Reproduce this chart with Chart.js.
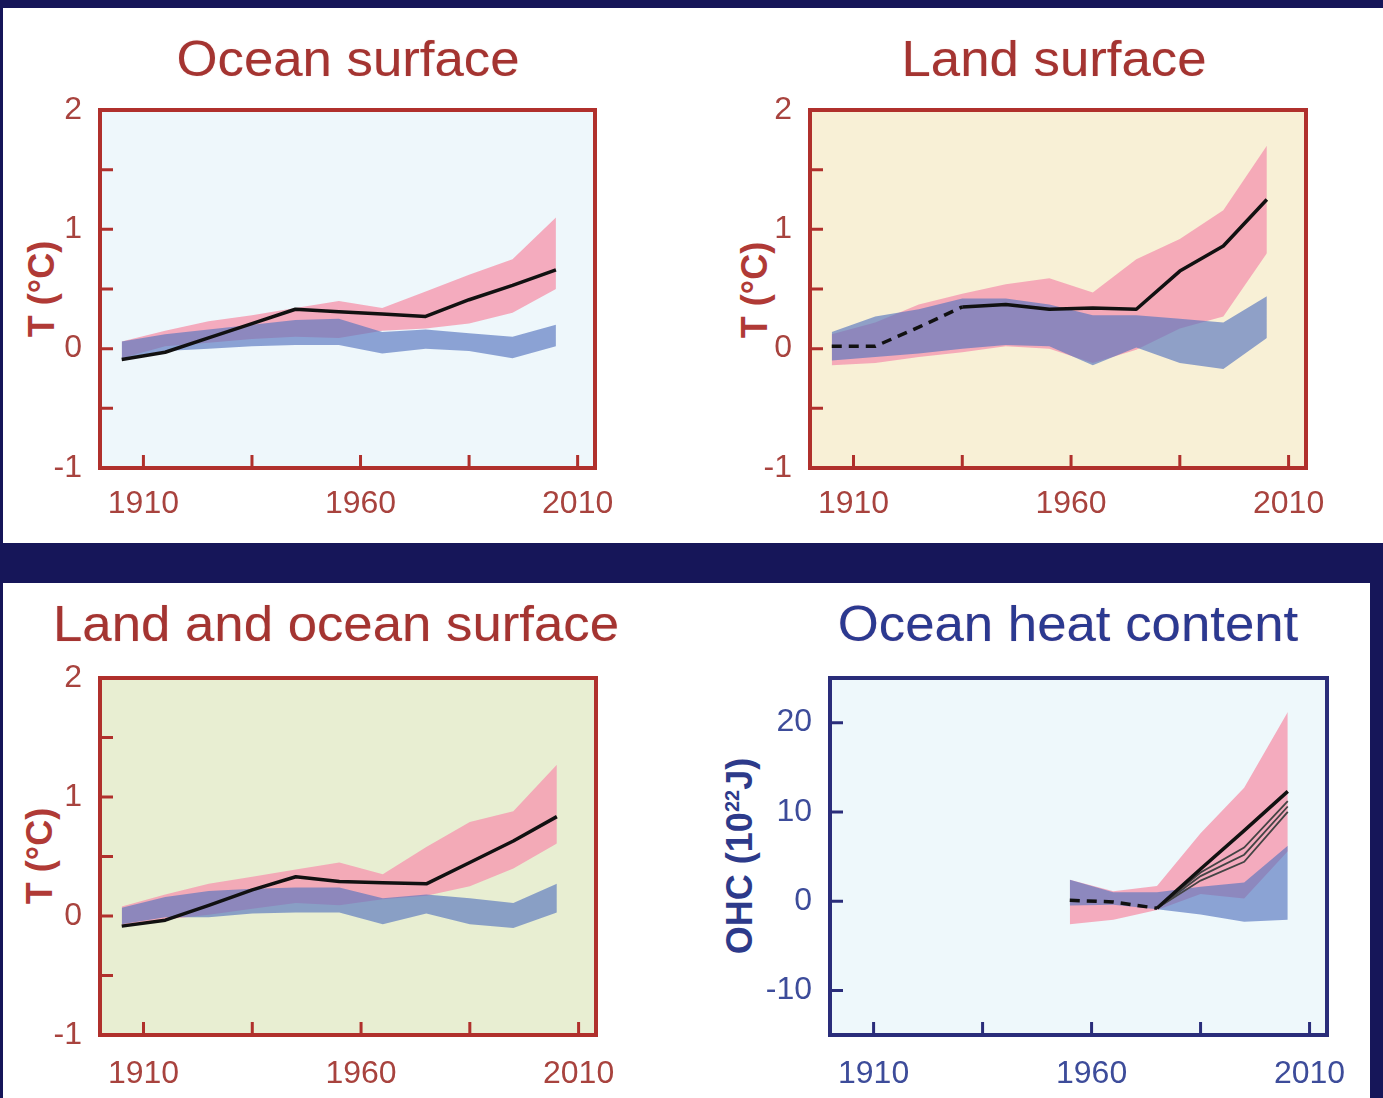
<!DOCTYPE html>
<html><head><meta charset="utf-8">
<script src="https://cdn.jsdelivr.net/npm/chart.js@4.4.1/dist/chart.umd.min.js"></script>
<style>
html,body{margin:0;padding:0;}
body{width:1383px;height:1098px;background:#161659;position:relative;overflow:hidden;font-family:"Liberation Sans",Arial,sans-serif;}
.panel{position:absolute;background:#fff;}
.title{position:absolute;font-size:50px;line-height:50px;white-space:nowrap;transform:translateX(-50%) scaleX(1.055);text-shadow:0 0 1px rgba(200,110,110,0.5);}
.ylab{position:absolute;font-weight:bold;font-size:36px;line-height:36px;white-space:nowrap;transform:translate(-50%,-50%) rotate(-90deg);}
.ylab sup{font-size:20px;vertical-align:13px;line-height:0;}
canvas{position:absolute;}
</style></head><body>
<div class="panel" style="left:3px;top:8px;width:1380px;height:535px"></div>
<div class="panel" style="left:3px;top:583px;width:1367px;height:515px"></div>

<div class="title" style="left:348px;top:34px;color:#a43431">Ocean surface</div>
<div class="title" style="left:1054px;top:34px;color:#a43431">Land surface</div>
<div class="title" style="left:336px;top:599px;color:#a43431">Land and ocean surface</div>
<div class="title" style="left:1068px;top:599px;color:#2b3990;text-shadow:0 0 1px rgba(200,110,140,0.5)">Ocean heat content</div>

<div class="ylab" style="left:42px;top:289px;color:#b03a36">T (°C)</div>
<div class="ylab" style="left:755px;top:290px;color:#b03a36">T (°C)</div>
<div class="ylab" style="left:40px;top:856px;color:#b03a36">T (°C)</div>
<div class="ylab" style="left:740px;top:856px;color:#2d3a8a">OHC (10<sup>22</sup>J)</div>

<canvas id="c1" width="690" height="468" style="left:0px;top:72px"></canvas>
<canvas id="c2" width="673" height="468" style="left:710px;top:72px"></canvas>
<canvas id="c3" width="690" height="458" style="left:0px;top:640px"></canvas>
<canvas id="c4" width="653" height="458" style="left:730px;top:640px"></canvas>

<script>
// ---------- data ----------
const years = [1905,1915,1925,1935,1945,1955,1965,1975,1985,1995,2005];
const ohcYears = [1955,1965,1975,1985,1995,2005];
const xTicks = [1910,1935,1960,1985,2010];
const xLabelYears = [1910,1960,2010];
const tempTicks = [-1,-0.5,0,0.5,1,1.5,2];
const tempLabels = [-1,0,1,2];
const ohcTicks = [-10,0,10,20];
const ohcLabels = [-10,0,10,20];

// Ocean surface
const oceanObs     = [-0.09,-0.03,0.09,0.21,0.33,0.31,0.29,0.27,0.41,0.53,0.66];
const oceanAllLow  = [-0.08,0.02,0.05,0.08,0.10,0.09,0.15,0.17,0.21,0.30,0.50];
const oceanAllHigh = [0.06,0.15,0.23,0.28,0.34,0.40,0.34,0.48,0.62,0.75,1.10];
const oceanNatLow  = [-0.08,-0.02,0.00,0.02,0.03,0.03,-0.04,0.00,-0.02,-0.08,0.02];
const oceanNatHigh = [0.06,0.12,0.16,0.20,0.24,0.25,0.14,0.16,0.13,0.10,0.20];

// Land surface
const landObs     = [0.02,0.02,0.18,0.35,0.37,0.33,0.34,0.33,0.65,0.86,1.25];
const landAllLow  = [-0.14,-0.12,-0.07,-0.03,0.02,0.00,-0.12,-0.01,0.17,0.27,0.80];
const landAllHigh = [0.12,0.22,0.37,0.46,0.54,0.59,0.47,0.75,0.92,1.16,1.70];
const landNatLow  = [-0.10,-0.07,-0.04,0.00,0.03,0.02,-0.14,0.01,-0.12,-0.17,0.09];
const landNatHigh = [0.14,0.27,0.33,0.42,0.42,0.37,0.28,0.28,0.25,0.22,0.44];

// Land and ocean surface
const loObs     = [-0.085,-0.035,0.09,0.22,0.33,0.29,0.28,0.27,0.45,0.63,0.835];
const loAllLow  = [-0.085,-0.03,0.01,0.06,0.11,0.09,0.14,0.17,0.25,0.40,0.61];
const loAllHigh = [0.08,0.18,0.27,0.33,0.39,0.45,0.35,0.58,0.79,0.88,1.27];
const loNatLow  = [-0.07,-0.01,-0.01,0.02,0.03,0.03,-0.07,0.02,-0.07,-0.10,0.03];
const loNatHigh = [0.07,0.16,0.21,0.23,0.24,0.24,0.15,0.18,0.15,0.11,0.27];

// Ocean heat content
const ohcObs     = [0.1,-0.1,-0.8,3.6,7.9,12.3];
const ohcAlt1    = [null,null,-0.8,2.3,4.4,10.0];
const ohcAlt2    = [null,null,-0.8,2.8,5.2,10.6];
const ohcAlt3    = [null,null,-0.8,3.2,6.0,11.2];
const ohcAllLow  = [-2.6,-2.1,-1.0,0.8,0.3,5.6];
const ohcAllHigh = [2.4,1.1,1.7,7.6,12.7,21.2];
const ohcNatLow  = [-0.5,-0.4,-0.9,-1.5,-2.3,-2.1];
const ohcNatHigh = [2.4,1.0,1.0,1.6,2.1,6.2];

// ---------- styling ----------
const PINK = 'rgba(244,156,178,0.84)';
const BLUE = 'rgba(86,116,190,0.65)';
const RED = '#b0302c';
const NAVY = '#2a2d7a';
const FONT = 'Liberation Sans';

const pts = (xs, ys) => xs.map((x,i)=>({x, y: ys[i]}));

const framePlugin = {
  id:'frame',
  beforeDatasetsDraw(chart, args, o){
    const {ctx, chartArea:a} = chart;
    ctx.save(); ctx.fillStyle = o.bg; ctx.fillRect(a.left, a.top, a.width, a.height); ctx.restore();
  },
  afterDatasetsDraw(chart, args, o){
    const {ctx, chartArea:a, scales} = chart;
    ctx.save();
    ctx.strokeStyle = o.color; ctx.lineWidth = 3; ctx.lineCap = 'butt';
    ctx.beginPath();
    scales.x.ticks.forEach(t => { const p = scales.x.getPixelForValue(t.value); ctx.moveTo(p, a.bottom); ctx.lineTo(p, a.bottom - o.tick); });
    scales.y.ticks.forEach(t => {
      if (t.value <= scales.y.min || t.value >= scales.y.max) return;
      const p = scales.y.getPixelForValue(t.value); ctx.moveTo(a.left, p); ctx.lineTo(a.left + o.tick, p);
    });
    ctx.stroke();
    ctx.lineWidth = 4; ctx.strokeRect(a.left, a.top, a.width, a.height);
    ctx.restore();
  }
};

function band(xs, lo, hi, color, order){
  return [
    {data: pts(xs, lo), borderWidth:0, pointRadius:0, fill:false, order, backgroundColor:color, borderColor:'rgba(0,0,0,0)'},
    {data: pts(xs, hi), borderWidth:0, pointRadius:0, fill:'-1', order, backgroundColor:color, borderColor:'rgba(0,0,0,0)'}
  ];
}
function obsLine(xs, ys, dashUntil, width){
  return {data: pts(xs, ys), borderColor:'#111', borderWidth: width || 3.5, pointRadius:0, fill:false, order:0,
    borderJoinStyle:'round',
    segment:{ borderDash: ctx => (dashUntil && ctx.p1DataIndex <= dashUntil) ? [10,7] : undefined }};
}

function makeChart(id, cfg){
  new Chart(document.getElementById(id), {
    type:'line',
    data:{ datasets: cfg.datasets },
    options:{
      responsive:false, animation:false, devicePixelRatio:1,
      layout:{ padding:{ left:0, top:0, right:cfg.padRight, bottom:0 } },
      plugins:{ legend:{display:false}, tooltip:{enabled:false},
        frame:{ bg:cfg.bg, color:cfg.frame, tick:13 } },
      scales:{
        x:{ type:'linear', min:1900, max:2014,
          afterBuildTicks: s => { s.ticks = xTicks.map(v => ({value:v})); },
          afterFit: s => { s.height = cfg.xh; },
          grid:{display:false, drawTicks:false}, border:{display:false},
          ticks:{ autoSkip:false, maxRotation:0, padding:cfg.xpad, color:cfg.labelColor,
            font:{family:FONT, size:32}, callback: v => xLabelYears.includes(v) ? String(v) : '' } },
        y:{ type:'linear', min:cfg.ymin, max:cfg.ymax,
          afterBuildTicks: s => { s.ticks = cfg.yTicks.map(v => ({value:v})); },
          afterFit: s => { s.width = 100; },
          grid:{display:false, drawTicks:false}, border:{display:false},
          ticks:{ autoSkip:false, padding:18, color:cfg.labelColor,
            font:{family:FONT, size:32, lineHeight:1.25}, callback: v => cfg.yLabels.includes(v) ? String(v) : '' } }
      }
    },
    plugins:[framePlugin]
  });
}

makeChart('c1', {
  bg:'#eef7fb', frame:RED, labelColor:'#a8433e', padRight:95, xh:72, xpad:17,
  ymin:-1, ymax:2, yTicks:tempTicks, yLabels:tempLabels,
  datasets:[ obsLine(years, oceanObs), ...band(years, oceanAllLow, oceanAllHigh, PINK, 3), ...band(years, oceanNatLow, oceanNatHigh, BLUE, 2) ]
});
makeChart('c2', {
  bg:'#f8f0d6', frame:RED, labelColor:'#a8433e', padRight:77, xh:72, xpad:17,
  ymin:-1, ymax:2, yTicks:tempTicks, yLabels:tempLabels,
  datasets:[ obsLine(years, landObs, 3), ...band(years, landAllLow, landAllHigh, PINK, 3), ...band(years, landNatLow, landNatHigh, BLUE, 2) ]
});
makeChart('c3', {
  bg:'#e8eed2', frame:RED, labelColor:'#a8433e', padRight:94, xh:63, xpad:20,
  ymin:-1, ymax:2, yTicks:tempTicks, yLabels:tempLabels,
  datasets:[ obsLine(years, loObs), ...band(years, loAllLow, loAllHigh, PINK, 3), ...band(years, loNatLow, loNatHigh, BLUE, 2) ]
});
const grey = ys => ({data: pts(ohcYears, ys), borderColor:'#444', borderWidth:1.8, pointRadius:0, fill:false, order:1, spanGaps:false});
makeChart('c4', {
  bg:'#eef8fb', frame:NAVY, labelColor:'#3d4c9a', padRight:56, xh:63, xpad:20,
  ymin:-15, ymax:25, yTicks:ohcTicks, yLabels:ohcLabels,
  datasets:[ obsLine(ohcYears, ohcObs, 2, 3.5), grey(ohcAlt1), grey(ohcAlt2), grey(ohcAlt3),
    ...band(ohcYears, ohcAllLow, ohcAllHigh, PINK, 3), ...band(ohcYears, ohcNatLow, ohcNatHigh, BLUE, 2) ]
});
</script>
</body></html>
